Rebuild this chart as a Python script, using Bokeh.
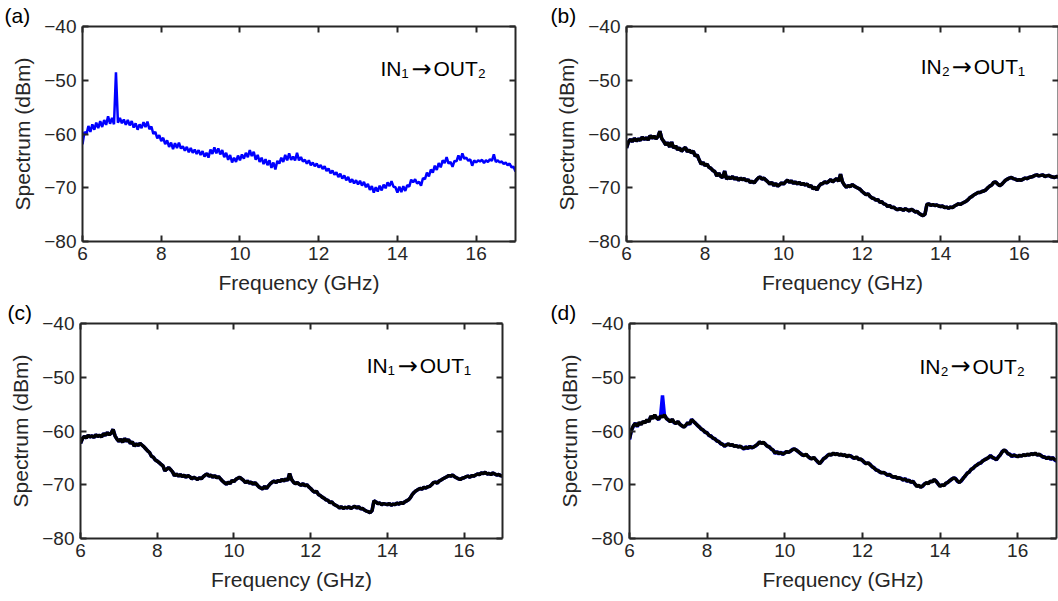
import numpy as np
from bokeh.plotting import figure
from bokeh.models import Range1d, LinearAxis, FixedTicker, Label
from bokeh.layouts import column, row
from bokeh.embed import file_html
from bokeh.resources import INLINE

# ---------------- data (0.05 GHz steps, 6..17 GHz) ----------------
freq_min, freq_max = 6.0, 17.0
x_ticks = [6, 8, 10, 12, 14, 16]
y_ticks = [-80, -70, -60, -50, -40]

# (a) IN1 -> OUT2 (blue only)
a_blue = [
    -61.9, -59.6, -60.1, -58.5, -59.6, -58.2, -59.2, -57.9, -58.9, -57.6, -58.7, -57.4, -58.3, -56.7, -58.1, -57.0, -58.2, -48.5, -57.9, -57.0,
    -58.0, -57.3, -58.3, -57.4, -58.4, -57.6, -58.8, -58.0, -59.2, -58.2, -58.9, -57.8, -58.7, -57.7, -59.1, -58.6, -60.0, -59.6, -60.8, -60.2,
    -61.3, -60.7, -61.9, -61.2, -62.4, -61.6, -62.8, -61.7, -62.6, -61.6, -62.7, -62.3, -63.1, -62.4, -63.4, -62.6, -63.5, -62.9, -63.7, -63.0,
    -63.9, -63.2, -64.2, -63.5, -64.4, -62.9, -63.7, -62.5, -63.6, -62.7, -63.8, -63.0, -64.3, -63.5, -64.8, -63.9, -65.3, -64.4, -65.2, -64.0,
    -64.9, -63.8, -64.6, -63.5, -64.3, -63.0, -64.1, -63.3, -64.8, -63.9, -65.2, -64.4, -65.6, -64.7, -65.8, -64.9, -66.3, -65.3, -66.6, -65.0,
    -65.5, -64.4, -65.2, -63.9, -64.9, -63.6, -64.8, -64.2, -64.9, -63.5, -64.9, -64.3, -65.1, -64.8, -65.5, -64.9, -65.8, -65.3, -66.0, -65.5,
    -66.2, -65.8, -66.5, -66.0, -66.9, -66.4, -67.3, -66.8, -67.6, -67.1, -68.0, -67.4, -68.3, -67.7, -68.6, -68.0, -69.0, -68.4, -69.2, -68.6,
    -69.4, -68.7, -69.6, -68.9, -69.9, -69.3, -70.4, -69.7, -70.9, -69.9, -70.7, -69.6, -70.5, -69.4, -70.1, -69.0, -69.7, -68.8, -69.8, -69.9,
    -70.9, -69.8, -70.8, -69.7, -70.6, -69.5, -69.8, -68.5, -69.0, -68.4, -69.2, -68.9, -69.6, -68.2, -68.4, -67.2, -67.9, -66.6, -67.2, -65.9,
    -66.7, -65.4, -66.2, -64.9, -65.4, -64.3, -65.5, -65.2, -66.1, -65.0, -65.1, -64.0, -64.9, -63.6, -64.6, -64.4, -65.0, -64.7, -65.9, -64.9,
    -65.3, -64.9, -65.1, -64.8, -65.4, -64.9, -65.2, -64.7, -65.0, -63.8, -65.2, -64.9, -65.3, -65.1, -65.6, -65.3, -65.8, -65.5, -66.2, -66.1,
    -67.0,
]

# (b) IN2 -> OUT1 (black over blue)
b_black = [
    -62.6, -61.5, -61.0, -61.4, -60.8, -61.3, -60.9, -61.2, -60.6, -61.0, -60.7, -61.1, -60.3, -60.8, -60.4, -60.9, -60.5, -59.5, -60.9, -61.4,
    -62.0, -61.6, -62.4, -61.5, -62.6, -62.2, -62.9, -62.6, -63.2, -62.8, -62.5, -63.3, -63.0, -63.5, -63.2, -64.1, -63.9, -64.8, -65.6, -65.3,
    -65.9, -65.6, -66.2, -66.4, -66.8, -67.0, -67.8, -67.3, -67.9, -68.1, -66.9, -68.4, -68.0, -68.3, -67.9, -68.4, -68.1, -68.6, -68.2, -68.5,
    -68.3, -68.7, -68.5, -69.0, -68.8, -69.1, -68.6, -68.2, -68.0, -68.4, -68.2, -68.6, -68.9, -69.3, -69.0, -69.6, -69.2, -69.7, -69.4, -69.1,
    -69.3, -68.9, -68.6, -69.0, -68.7, -69.2, -68.9, -69.3, -69.0, -69.4, -69.2, -69.5, -69.3, -69.8, -69.6, -70.2, -69.9, -70.4, -69.7, -69.3,
    -69.2, -68.9, -69.1, -68.8, -68.5, -68.9, -68.6, -68.3, -68.8, -67.5, -68.9, -69.5, -69.9, -69.6, -69.8, -69.4, -69.7, -69.9, -70.1, -70.3,
    -70.7, -71.0, -71.3, -71.1, -71.6, -71.9, -72.0, -72.3, -72.2, -72.7, -72.6, -73.0, -73.1, -73.5, -73.3, -73.7, -73.6, -73.9, -74.1, -73.9,
    -74.0, -74.2, -73.9, -74.1, -74.3, -74.0, -74.2, -74.5, -74.4, -74.8, -75.0, -75.2, -74.9, -73.1, -73.0, -73.3, -73.1, -73.3, -73.2, -73.4,
    -73.5, -73.4, -73.7, -73.6, -73.8, -73.6, -73.7, -73.4, -73.2, -73.0, -73.1, -72.9, -72.7, -72.5, -72.2, -71.8, -71.6, -71.3, -71.1, -70.9,
    -70.9, -70.7, -70.6, -70.4, -70.0, -69.7, -69.5, -69.0, -68.9, -69.3, -69.6, -69.4, -69.0, -68.6, -68.4, -68.2, -68.1, -68.3, -68.4, -68.6,
    -68.5, -68.6, -68.4, -68.2, -68.3, -68.1, -68.0, -67.9, -67.7, -67.6, -67.8, -67.7, -67.6, -67.9, -67.8, -67.7, -67.9, -68.0, -68.1, -67.9,
    -68.0,
]

# (c) IN1 -> OUT1 (black over blue)
c_black = [
    -62.3, -61.4, -61.0, -61.3, -60.8, -61.1, -60.9, -61.2, -60.7, -61.0, -60.8, -61.1, -60.5, -60.8, -60.3, -60.7, -60.4, -59.7, -60.9, -61.5,
    -61.9, -61.5, -62.1, -61.4, -61.9, -61.6, -62.3, -62.0, -62.8, -62.4, -62.7, -62.3, -62.6, -62.9, -63.3, -63.7, -64.0, -64.7, -64.9, -65.4,
    -65.6, -65.9, -66.2, -66.5, -67.4, -67.1, -66.8, -67.2, -67.6, -68.3, -68.0, -68.4, -68.1, -68.5, -68.2, -68.6, -68.3, -68.5, -68.9, -68.6,
    -68.8, -69.0, -68.7, -68.9, -68.5, -68.2, -68.0, -68.4, -68.2, -68.6, -68.3, -68.7, -68.5, -68.9, -69.3, -69.6, -69.9, -69.5, -69.8, -69.2,
    -69.4, -69.0, -68.8, -68.6, -68.9, -69.2, -69.6, -69.3, -69.7, -69.5, -69.9, -69.6, -70.0, -70.4, -70.6, -70.8, -70.3, -70.7, -70.2, -69.8,
    -69.5, -69.3, -69.6, -69.2, -69.4, -69.0, -69.3, -68.9, -69.2, -67.9, -69.0, -69.5, -69.8, -69.6, -69.9, -70.1, -69.8, -70.2, -70.0, -70.4,
    -70.7, -71.1, -71.4, -71.2, -71.8, -72.0, -72.3, -72.5, -72.8, -72.9, -73.3, -73.2, -73.6, -73.8, -74.0, -74.3, -74.1, -74.4, -74.2, -74.3,
    -74.1, -74.4, -74.2, -74.0, -74.3, -74.1, -74.5, -74.4, -74.7, -74.9, -75.0, -75.2, -74.8, -73.0, -73.2, -73.5, -73.4, -73.7, -73.5, -73.6,
    -73.7, -73.5, -73.8, -73.6, -73.7, -73.4, -73.6, -73.3, -73.5, -73.2, -73.0, -72.8, -72.4, -71.8, -71.4, -71.1, -70.9, -70.7, -70.8, -70.5,
    -70.6, -70.4, -70.3, -70.0, -69.6, -69.5, -69.7, -69.3, -69.1, -68.9, -68.7, -68.5, -68.3, -68.4, -68.2, -68.5, -68.7, -68.9, -69.0, -68.8,
    -68.7, -68.5, -68.4, -68.6, -68.3, -68.4, -68.2, -68.0, -68.1, -67.8, -67.9, -67.7, -68.0, -67.9, -68.1, -67.8, -68.0, -68.2, -68.1, -68.3,
    -68.4,
]

# (d) IN2 -> OUT2 (black over blue; the blue trace shows the spike near 6.85 GHz)
d_black = [
    -61.4, -59.8, -59.0, -58.6, -59.1, -58.4, -58.8, -58.2, -58.5, -57.9, -58.3, -57.2, -57.7, -57.0, -57.6, -57.8, -57.2, -57.4, -57.0, -57.7,
    -57.9, -58.3, -57.8, -58.4, -58.6, -58.2, -58.8, -59.0, -59.3, -58.9, -58.5, -58.7, -57.9, -58.2, -58.6, -58.9, -59.3, -59.6, -59.9, -60.2,
    -60.4, -60.8, -61.0, -61.3, -61.5, -61.8, -62.0, -62.3, -62.5, -62.8, -62.6, -62.4, -62.7, -62.5, -62.9, -62.7, -63.0, -62.8, -63.1, -63.3,
    -63.0, -63.2, -62.9, -63.1, -63.0, -62.7, -62.5, -62.0, -62.3, -62.1, -62.5, -62.8, -63.0, -63.3, -63.6, -64.1, -63.9, -64.2, -64.0, -64.3,
    -64.1, -63.8, -64.0, -63.7, -63.5, -63.3, -63.6, -63.8, -64.2, -64.4, -64.6, -64.3, -64.8, -65.0, -65.2, -64.9, -65.4, -65.7, -66.1, -65.6,
    -65.2, -64.9, -64.6, -64.3, -64.5, -64.1, -64.4, -64.2, -64.5, -64.3, -64.6, -64.4, -64.8, -64.5, -64.7, -64.9, -65.1, -64.8, -65.3, -65.2,
    -65.5, -65.8, -66.1, -65.9, -66.3, -66.6, -66.9, -67.2, -67.4, -67.6, -67.8, -67.7, -68.0, -68.2, -68.1, -68.4, -68.6, -68.5, -68.8, -68.7,
    -68.9, -69.1, -68.9, -69.3, -69.2, -69.5, -69.4, -69.8, -70.3, -70.1, -70.5, -70.2, -69.9, -69.6, -69.8, -69.3, -69.5, -69.0, -69.4, -69.8,
    -70.3, -70.0, -70.2, -69.7, -69.6, -69.2, -69.0, -68.7, -68.9, -69.3, -69.6, -69.2, -68.8, -68.3, -67.9, -67.6, -67.2, -66.9, -66.6, -66.3,
    -66.1, -65.9, -65.6, -65.3, -65.2, -64.9, -64.6, -64.9, -65.1, -65.3, -64.9, -64.4, -63.9, -63.5, -63.8, -64.2, -64.4, -64.7, -64.5, -64.6,
    -64.8, -64.5, -64.7, -64.4, -64.6, -64.3, -64.5, -64.2, -64.4, -64.1, -64.5, -64.3, -64.6, -64.8, -64.9, -65.1, -64.9, -65.2, -65.0, -65.3,
    -65.5,
]
d_blue = [
    -61.6, -59.9, -59.1, -58.5, -59.2, -58.5, -58.7, -58.3, -58.4, -58.0, -58.2, -57.3, -57.6, -57.1, -57.5, -57.9, -57.3, -53.4, -57.1, -57.6,
    -58.0, -58.2, -57.9, -58.5, -58.5, -58.3, -58.7, -59.1, -59.2, -59.0, -58.4, -58.8, -57.8, -58.3, -58.5, -59.0, -59.2, -59.7, -59.8, -60.3,
    -60.3, -60.9, -60.9, -61.4, -61.4, -61.9, -61.9, -62.4, -62.4, -62.9, -62.5, -62.5, -62.6, -62.6, -62.8, -62.8, -62.9, -62.9, -63.0, -63.4,
    -62.9, -63.3, -62.8, -63.2, -62.9, -62.8, -62.4, -62.1, -62.2, -62.2, -62.4, -62.9, -62.9, -63.4, -63.5, -64.2, -63.8, -64.3, -63.9, -64.4,
    -64.0, -63.9, -63.9, -63.8, -63.4, -63.4, -63.5, -63.9, -64.1, -64.5, -64.5, -64.4, -64.7, -65.1, -65.1, -65.0, -65.3, -65.8, -66.0, -65.7,
    -65.1, -65.0, -64.5, -64.4, -64.4, -64.2, -64.3, -64.3, -64.4, -64.4, -64.5, -64.5, -64.7, -64.6, -64.6, -65.0, -65.0, -64.9, -65.2, -65.3,
    -65.4, -65.9, -66.0, -66.0, -66.2, -66.7, -66.8, -67.3, -67.3, -67.7, -67.7, -67.8, -67.9, -68.3, -68.0, -68.5, -68.5, -68.6, -68.7, -68.8,
    -68.8, -69.2, -68.8, -69.4, -69.1, -69.6, -69.3, -69.9, -70.2, -70.2, -70.4, -70.3, -69.8, -69.7, -69.7, -69.4, -69.4, -69.1, -69.3, -69.9,
    -70.2, -70.1, -70.1, -69.8, -69.5, -69.3, -68.9, -68.8, -68.8, -69.4, -69.5, -69.3, -68.7, -68.4, -67.8, -67.7, -67.1, -67.0, -66.5, -66.4,
    -66.0, -66.0, -65.5, -65.4, -65.1, -65.0, -64.5, -65.0, -65.0, -65.4, -64.8, -64.5, -63.8, -63.6, -63.7, -64.3, -64.3, -64.8, -64.4, -64.7,
    -64.7, -64.6, -64.6, -64.5, -64.5, -64.4, -64.4, -64.3, -64.3, -64.2, -64.4, -64.4, -64.5, -64.9, -64.8, -65.2, -64.8, -65.3, -64.9, -65.4,
    -65.6,
]

panel_tags = ["(a)", "(b)", "(c)", "(d)"]
# path annotations: input port, arrow, output port
panel_inputs = ["IN\u2081", "IN\u2082", "IN\u2081", "IN\u2082"]
panel_outputs = ["OUT\u2082", "OUT\u2081", "OUT\u2081", "OUT\u2082"]
ARROW = "\u2192"

# ---------------- styling ----------------
FONT = "Liberation Sans"
INK = "#262626"
BLUE = "#0000FF"
BLACK = "#000000"


def freq_axis(vals):
    return np.linspace(freq_min, freq_max, len(vals))


def style_axis(ax):
    ax.axis_line_color = INK
    ax.axis_line_width = 2
    ax.major_tick_line_color = INK
    ax.major_tick_line_width = 2
    ax.major_tick_in = 6
    ax.major_tick_out = 0
    ax.minor_tick_in = 0
    ax.minor_tick_out = 0
    ax.major_label_text_font = FONT
    ax.major_label_text_color = INK
    ax.axis_label_text_font = FONT
    ax.axis_label_text_color = INK
    ax.axis_label_text_font_style = "normal"


def mirror_axis(ticks):
    ax = LinearAxis(ticker=FixedTicker(ticks=ticks))
    style_axis(ax)
    ax.major_label_text_font_size = "0px"
    ax.major_label_standoff = 0
    ax.axis_label = None
    return ax


def make_panel(width, height, mb, traces, lw, tag, tag_offset, inp, outp, note_xy):
    p = figure(width=width, height=height,
               x_range=Range1d(freq_min, freq_max), y_range=Range1d(-80, -40),
               output_backend="svg", toolbar_location=None,
               min_border_left=mb[0], min_border_right=mb[1],
               min_border_top=mb[2], min_border_bottom=mb[3])
    p.outline_line_color = None
    p.grid.visible = False
    p.background_fill_color = "white"
    p.border_fill_color = "white"

    # panel tag as a left-aligned title shifted to the left of the frame
    p.title.text = tag
    p.title.align = "left"
    p.title.offset = tag_offset
    p.title.standoff = 0
    p.title.text_font = FONT
    p.title.text_font_size = "21px"
    p.title.text_font_style = "normal"
    p.title.text_color = BLACK

    p.xaxis.ticker = FixedTicker(ticks=x_ticks)
    p.yaxis.ticker = FixedTicker(ticks=y_ticks)
    p.xaxis.axis_label = "Frequency (GHz)"
    p.yaxis.axis_label = "Spectrum (dBm)"
    for ax in list(p.xaxis) + list(p.yaxis):
        style_axis(ax)
        ax.major_label_text_font_size = "19px"
        ax.axis_label_text_font_size = "21px"
    p.xaxis.major_label_standoff = 5
    p.xaxis.axis_label_standoff = 8
    p.yaxis.major_label_standoff = 6
    p.yaxis.axis_label_standoff = 7

    p.add_layout(mirror_axis(x_ticks), "above")
    p.add_layout(mirror_axis(y_ticks), "right")

    for vals, color in traces:
        p.line(freq_axis(vals), vals, line_color=color, line_width=lw)

    nx, ny = note_xy
    p.add_layout(Label(x=nx, y=ny, text=inp, text_font=FONT,
                       text_font_size="21px", text_color=BLACK,
                       text_align="left", text_baseline="middle"))
    p.add_layout(Label(x=nx, y=ny, x_offset=31, text=ARROW, text_font="DejaVu Sans",
                       text_font_size="24px", text_color=BLACK,
                       text_align="left", text_baseline="middle"))
    p.add_layout(Label(x=nx, y=ny, x_offset=53, text=outp, text_font=FONT,
                       text_font_size="21px", text_color=BLACK,
                       text_align="left", text_baseline="middle"))
    return p


pa = make_panel(540, 298, (82, 25, 24, 57), [(a_blue, BLUE)], 2.5,
                panel_tags[0], -78, panel_inputs[0], panel_outputs[0], (13.57, -47.9))
pb = make_panel(518, 298, (86, 0, 26, 55), [(b_black, BLUE), (b_black, BLACK)], 3.5,
                panel_tags[1], -76, panel_inputs[1], panel_outputs[1], (13.49, -47.5))
pc = make_panel(548, 303, (80, 46, 25, 62), [(c_black, BLUE), (c_black, BLACK)], 3.5,
                panel_tags[2], -73, panel_inputs[2], panel_outputs[2], (13.46, -47.9))
pd = make_panel(510, 303, (81, 2, 25, 63), [(d_blue, BLUE), (d_black, BLACK)], 3.5,
                panel_tags[3], -79, panel_inputs[3], panel_outputs[3], (13.47, -47.95))

layout = column(row(pa, pb, spacing=0), row(pc, pd, spacing=0), spacing=0)
open("out.html", "w").write(file_html(layout, INLINE))
